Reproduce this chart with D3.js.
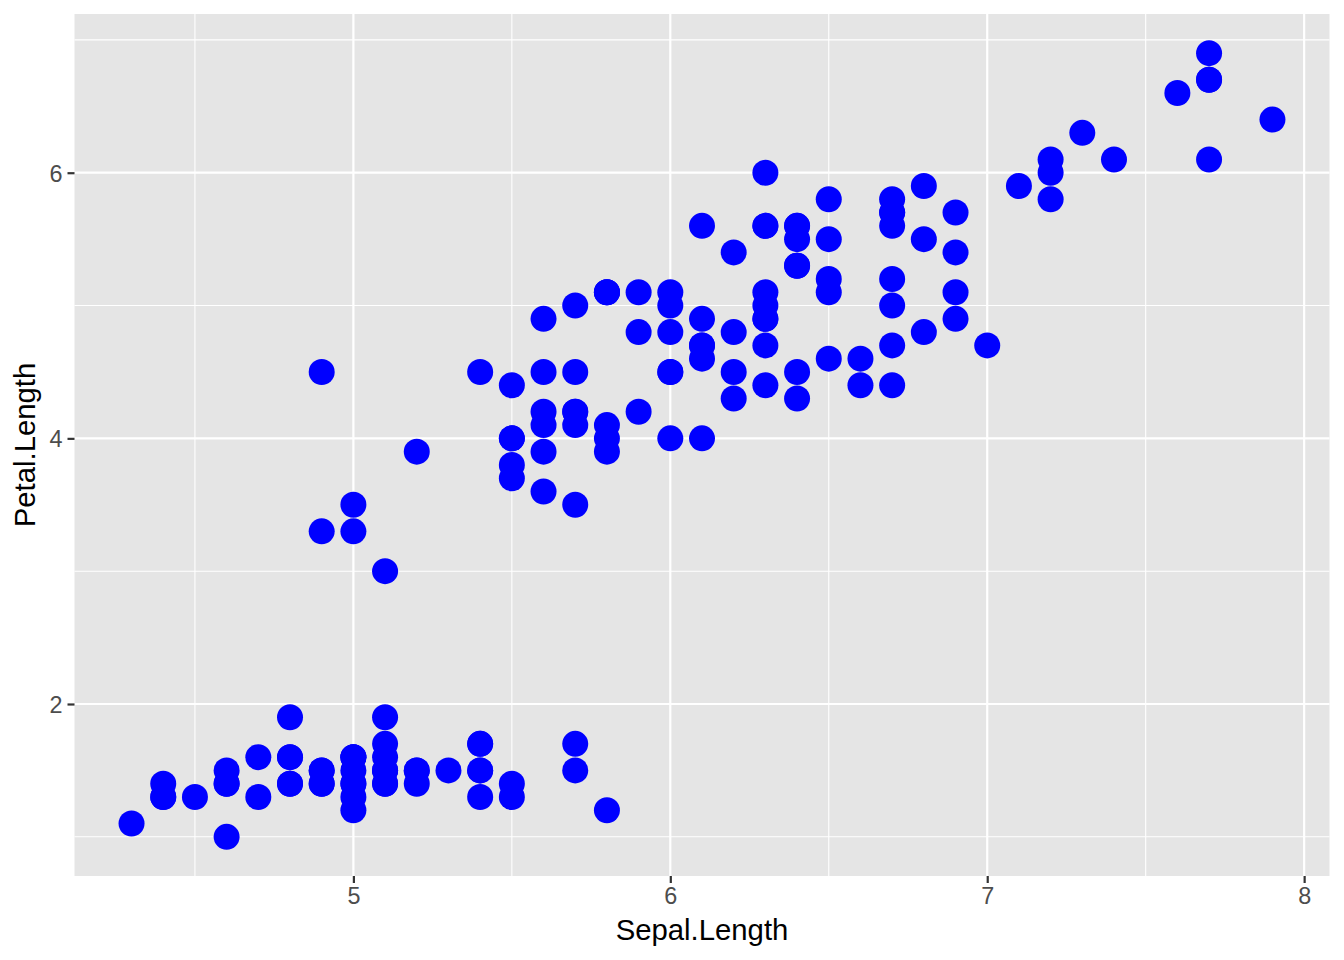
<!DOCTYPE html>
<html><head><meta charset="utf-8">
<script src="https://cdn.jsdelivr.net/npm/d3@7"></script>
<style>body{margin:0;background:#fff}svg{display:block}</style>
</head><body>
<svg id="c" width="1344" height="960"></svg>
<script>
const sepalLength = [5.1,4.9,4.7,4.6,5.0,5.4,4.6,5.0,4.4,4.9,5.4,4.8,4.8,4.3,5.8,5.7,5.4,5.1,5.7,5.1,5.4,5.1,4.6,5.1,4.8,5.0,5.0,5.2,5.2,4.7,4.8,5.4,5.2,5.5,4.9,5.0,5.5,4.9,4.4,5.1,5.0,4.5,4.4,5.0,5.1,4.8,5.1,4.6,5.3,5.0,
7.0,6.4,6.9,5.5,6.5,5.7,6.3,4.9,6.6,5.2,5.0,5.9,6.0,6.1,5.6,6.7,5.6,5.8,6.2,5.6,5.9,6.1,6.3,6.1,6.4,6.6,6.8,6.7,6.0,5.7,5.5,5.5,5.8,6.0,5.4,6.0,6.7,6.3,5.6,5.5,5.5,6.1,5.8,5.0,5.6,5.7,5.7,6.2,5.1,5.7,
6.3,5.8,7.1,6.3,6.5,7.6,4.9,7.3,6.7,7.2,6.5,6.4,6.8,5.7,5.8,6.4,6.5,7.7,7.7,6.0,6.9,5.6,7.7,6.3,6.7,7.2,6.2,6.1,6.4,7.2,7.4,7.9,6.4,6.3,6.1,7.7,6.3,6.4,6.0,6.9,6.7,6.9,5.8,6.8,6.7,6.7,6.3,6.5,6.2,5.9];
const petalLength = [1.4,1.4,1.3,1.5,1.4,1.7,1.4,1.5,1.4,1.5,1.5,1.6,1.4,1.1,1.2,1.5,1.3,1.4,1.7,1.5,1.7,1.5,1.0,1.7,1.9,1.6,1.6,1.5,1.4,1.6,1.6,1.5,1.5,1.4,1.5,1.2,1.3,1.4,1.3,1.5,1.3,1.3,1.3,1.6,1.9,1.4,1.6,1.4,1.5,1.4,
4.7,4.5,4.9,4.0,4.6,4.5,4.7,3.3,4.6,3.9,3.5,4.2,4.0,4.7,3.6,4.4,4.5,4.1,4.5,3.9,4.8,4.0,4.9,4.7,4.3,4.4,4.8,5.0,4.5,3.5,3.8,3.7,3.9,5.1,4.5,4.5,4.7,4.4,4.1,4.0,4.4,4.6,4.0,3.3,4.2,4.2,4.2,4.3,3.0,4.1,
6.0,5.1,5.9,5.6,5.8,6.6,4.5,6.3,5.8,6.1,5.1,5.3,5.5,5.0,5.1,5.3,5.5,6.7,6.9,5.0,5.7,4.9,6.7,4.9,5.7,6.0,4.8,4.9,5.6,5.8,6.1,6.4,5.6,5.1,5.6,6.1,5.6,5.5,4.8,5.4,5.6,5.1,5.1,5.9,5.7,5.2,5.0,5.2,5.4,5.1];
const xTicks = [5,6,7,8];
const yTicks = [2,4,6];
const xMinor = [4.5,5.5,6.5,7.5];
const yMinor = [1,3,5,7];
const xLabel = "Sepal.Length", yLabel = "Petal.Length";

const svg = d3.select("#c");
const L = 74.5, R = 1329.5, T = 14, B = 876;
const x = d3.scaleLinear().domain([4.12, 8.08]).range([L, R]);
const y = d3.scaleLinear().domain([0.705, 7.195]).range([B, T]);

svg.append("rect").attr("x", L).attr("y", T).attr("width", R - L).attr("height", B - T).attr("fill", "#E5E5E5");
const g = svg.append("g");
g.selectAll(".xm").data(xMinor).join("line").attr("x1", d => x(d)).attr("x2", d => x(d)).attr("y1", T).attr("y2", B).attr("stroke", "#fff").attr("stroke-width", 1.1);
g.selectAll(".ym").data(yMinor).join("line").attr("y1", d => y(d)).attr("y2", d => y(d)).attr("x1", L).attr("x2", R).attr("stroke", "#fff").attr("stroke-width", 1.1);
g.selectAll(".xM").data(xTicks).join("line").attr("x1", d => x(d)).attr("x2", d => x(d)).attr("y1", T).attr("y2", B).attr("stroke", "#fff").attr("stroke-width", 2.2);
g.selectAll(".yM").data(yTicks).join("line").attr("y1", d => y(d)).attr("y2", d => y(d)).attr("x1", L).attr("x2", R).attr("stroke", "#fff").attr("stroke-width", 2.2);

const pts = sepalLength.map((s, i) => ({s, p: petalLength[i]}));
svg.append("g").selectAll("circle").data(pts).join("circle")
  .attr("cx", d => x(d.s)).attr("cy", d => y(d.p)).attr("r", 13).attr("fill", "#0000FF");

const xAxis = svg.append("g").attr("transform", `translate(0,${B})`)
  .call(d3.axisBottom(x).tickValues(xTicks).tickFormat(d3.format("d")).tickSize(7).tickPadding(4));
const yAxis = svg.append("g").attr("transform", `translate(${L},0)`)
  .call(d3.axisLeft(y).tickValues(yTicks).tickFormat(d3.format("d")).tickSize(7).tickPadding(5));
[xAxis, yAxis].forEach(a => {
  a.select(".domain").remove();
  a.selectAll("line").attr("stroke", "#333").attr("stroke-width", 2.2);
  a.selectAll("text").attr("fill", "#4D4D4D").attr("font-family", "Liberation Sans, Arial, sans-serif").attr("font-size", 23.4);
});
yAxis.selectAll("text").attr("dy", "0.36em");

svg.append("text").attr("x", (L + R) / 2).attr("y", 940).attr("text-anchor", "middle")
  .attr("font-family", "Liberation Sans, Arial, sans-serif").attr("font-size", 29.3).attr("fill", "#000").text(xLabel);
svg.append("text").attr("transform", `translate(35,${(T + B) / 2}) rotate(-90)`).attr("text-anchor", "middle")
  .attr("font-family", "Liberation Sans, Arial, sans-serif").attr("font-size", 29.3).attr("fill", "#000").text(yLabel);
</script>
</body></html>
